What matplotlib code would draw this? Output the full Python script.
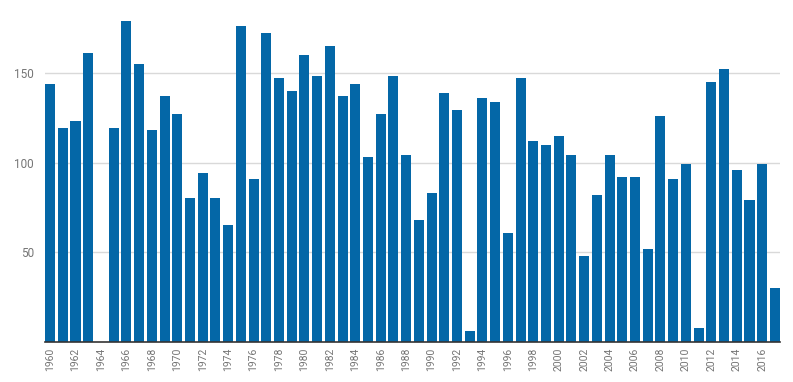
import matplotlib
matplotlib.use("Agg")
import matplotlib.pyplot as plt

# ---------------------------------------------------------------------------
# Data
# ---------------------------------------------------------------------------
years = list(range(1960, 2018))
values = [
    144, 119, 123, 161, 0, 119, 179, 155, 118, 137,   # 1960-1969
    127, 80, 94, 80, 65, 176, 91, 172, 147, 140,      # 1970-1979
    160, 148, 165, 137, 144, 103, 127, 148, 104, 68,  # 1980-1989
    83, 139, 129, 6, 136, 134, 61, 147, 112, 110,     # 1990-1999
    115, 104, 48, 82, 104, 92, 92, 52, 126, 91,       # 2000-2009
    99, 8, 145, 152, 96, 79, 99, 30,                  # 2010-2017
]
y_ticks = [50, 100, 150]

BAR_COLOUR = "#0467a7"
GRID_COLOUR = "#d9d9d9"
LABEL_COLOUR = "#757575"

plt.rcParams["font.family"] = ["Roboto", "DejaVu Sans"]

fig = plt.figure(figsize=(7.93, 3.82), dpi=100)
ax = fig.add_axes([45 / 793, 40 / 382, 735 / 793, 332 / 382])

x = list(range(len(years)))
ax.bar(x, values, width=0.79, color=BAR_COLOUR, zorder=3)

ax.set_xlim(-0.4, len(years) - 0.6)
ax.set_ylim(0, 185)

ax.set_yticks(y_ticks)
ax.set_yticklabels([str(v) for v in y_ticks], fontsize=8.5, color=LABEL_COLOUR)
ax.yaxis.grid(True, color=GRID_COLOUR, linewidth=1, zorder=0)

even = [i for i, yr in enumerate(years) if yr % 2 == 0]
ax.set_xticks(even)
ax.set_xticklabels([str(years[i]) for i in even], rotation=90,
                   fontsize=7.5, color=LABEL_COLOUR)

ax.tick_params(axis="both", length=0)
ax.tick_params(axis="x", pad=4)
ax.tick_params(axis="y", pad=8)

for side in ("top", "right", "left"):
    ax.spines[side].set_visible(False)
ax.spines["bottom"].set_color("#333333")
ax.spines["bottom"].set_linewidth(1.2)
ax.spines["bottom"].set_zorder(4)

fig.savefig("out.png", dpi=100)
